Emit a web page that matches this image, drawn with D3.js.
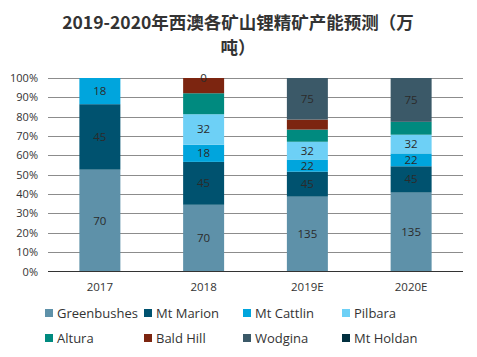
<!DOCTYPE html>
<html><head><meta charset="utf-8">
<script src="https://cdn.jsdelivr.net/npm/d3@7/dist/d3.min.js"></script>
<style>body{margin:0;background:#fff}</style></head>
<body><svg id="c" width="477" height="357"></svg>
<script>
const categories = ["2017","2018","2019E","2020E"];
const seriesNames = ["Greenbushes","Mt Marion","Mt Cattlin","Pilbara","Altura","Bald Hill","Wodgina","Mt Holdan"];
const greenbushes = [70,70,135,135];
const mtMarion = [45,45,45,45];
const mtCattlin = [18,18,22,22];
const pilbara = [null,32,32,32];
const altura = [null,22,22,22];
const baldHill = [null,16,18,null];
const wodgina = [null,null,75,75];
const mtHoldan = [null,0,null,null];
const showLabel = [true,true,true,true,false,false,true,true];
const yTicks = [0,0.1,0.2,0.3,0.4,0.5,0.6,0.7,0.8,0.9,1];
const colors = ["#5E91A9","#00526F","#00A5DD","#6DD0F6","#008A7F","#7C2510","#3B5968","#02303F"];

const values = [greenbushes,mtMarion,mtCattlin,pilbara,altura,baldHill,wodgina,mtHoldan];
const svg = d3.select("#c");
const m = {l:48, r:14, t:78, b:86};
const W = 477, H = 357;
const x = d3.scaleBand().domain(categories).range([m.l, W-m.r]).paddingInner(0.605).paddingOuter(0.3025);
const y = d3.scaleLinear().domain([0,1]).range([271.5, 78]);

svg.append("text").attr("x",238).attr("y",29).attr("text-anchor","middle")
  .attr("font-family","'Noto Sans CJK SC'").attr("font-weight","bold").attr("font-size",17.5).attr("fill","#333")
  .text("2019-2020年西澳各矿山锂精矿产能预测（万");
svg.append("text").attr("x",238).attr("y",54).attr("text-anchor","middle")
  .attr("font-family","'Noto Sans CJK SC'").attr("font-weight","bold").attr("font-size",17.5).attr("fill","#333")
  .text("吨）");

// grid
svg.append("g").selectAll("line").data(yTicks.slice(1)).join("line")
  .attr("x1",m.l).attr("x2",W-m.r).attr("y1",d=>Math.round(y(d))+0.5).attr("y2",d=>Math.round(y(d))+0.5)
  .attr("stroke","#8c8c8c").attr("stroke-width",1);
svg.append("g").selectAll("text").data(yTicks).join("text")
  .attr("x",38).attr("y",d=>y(d)+4).attr("text-anchor","end")
  .attr("font-family","'Open Sans', 'DejaVu Sans'").attr("font-size",11).attr("fill","#333")
  .text(d=>Math.round(d*100)+"%");

// stacks
categories.forEach((c,ci)=>{
  const tot = d3.sum(values, v=>v[ci]||0);
  let acc = 0;
  values.forEach((v,si)=>{
    const val = v[ci];
    if (val===null) return;
    const y0 = y(acc/tot), y1 = y((acc+val)/tot);
    svg.append("rect").attr("x",x(c)).attr("width",x.bandwidth())
      .attr("y",y1).attr("height",Math.max(0,y0-y1)).attr("fill",colors[si]);
    if (showLabel[si]) {
      svg.append("text").attr("x",x(c)+x.bandwidth()/2).attr("y",(y0+y1)/2+4)
        .attr("text-anchor","middle").attr("font-family","'Open Sans', 'DejaVu Sans'")
        .attr("font-size",11.5).attr("fill","#2b2b2b").text(val);
    }
    acc += val;
  });
});

// baseline
svg.append("line").attr("x1",m.l).attr("x2",W-m.r).attr("y1",271.5).attr("y2",271.5)
  .attr("stroke","#333").attr("stroke-width",1.2);
svg.append("g").selectAll("text").data(categories).join("text")
  .attr("x",d=>x(d)+x.bandwidth()/2).attr("y",291).attr("text-anchor","middle")
  .attr("font-family","'Open Sans', 'DejaVu Sans'").attr("font-size",11.5).attr("fill","#333").text(d=>d);

// legend
const lg = svg.append("g");
seriesNames.forEach((n,i)=>{
  const col = i%4, row = Math.floor(i/4);
  const lx = 45 + col*99, ly = 313 + row*25;
  lg.append("rect").attr("x",lx).attr("y",ly-4).attr("width",8).attr("height",8).attr("fill",colors[i]);
  lg.append("text").attr("x",lx+12).attr("y",ly+5).attr("font-family","'Open Sans', 'DejaVu Sans'")
    .attr("font-size",13).attr("fill","#333").text(n);
});
</script></body></html>
